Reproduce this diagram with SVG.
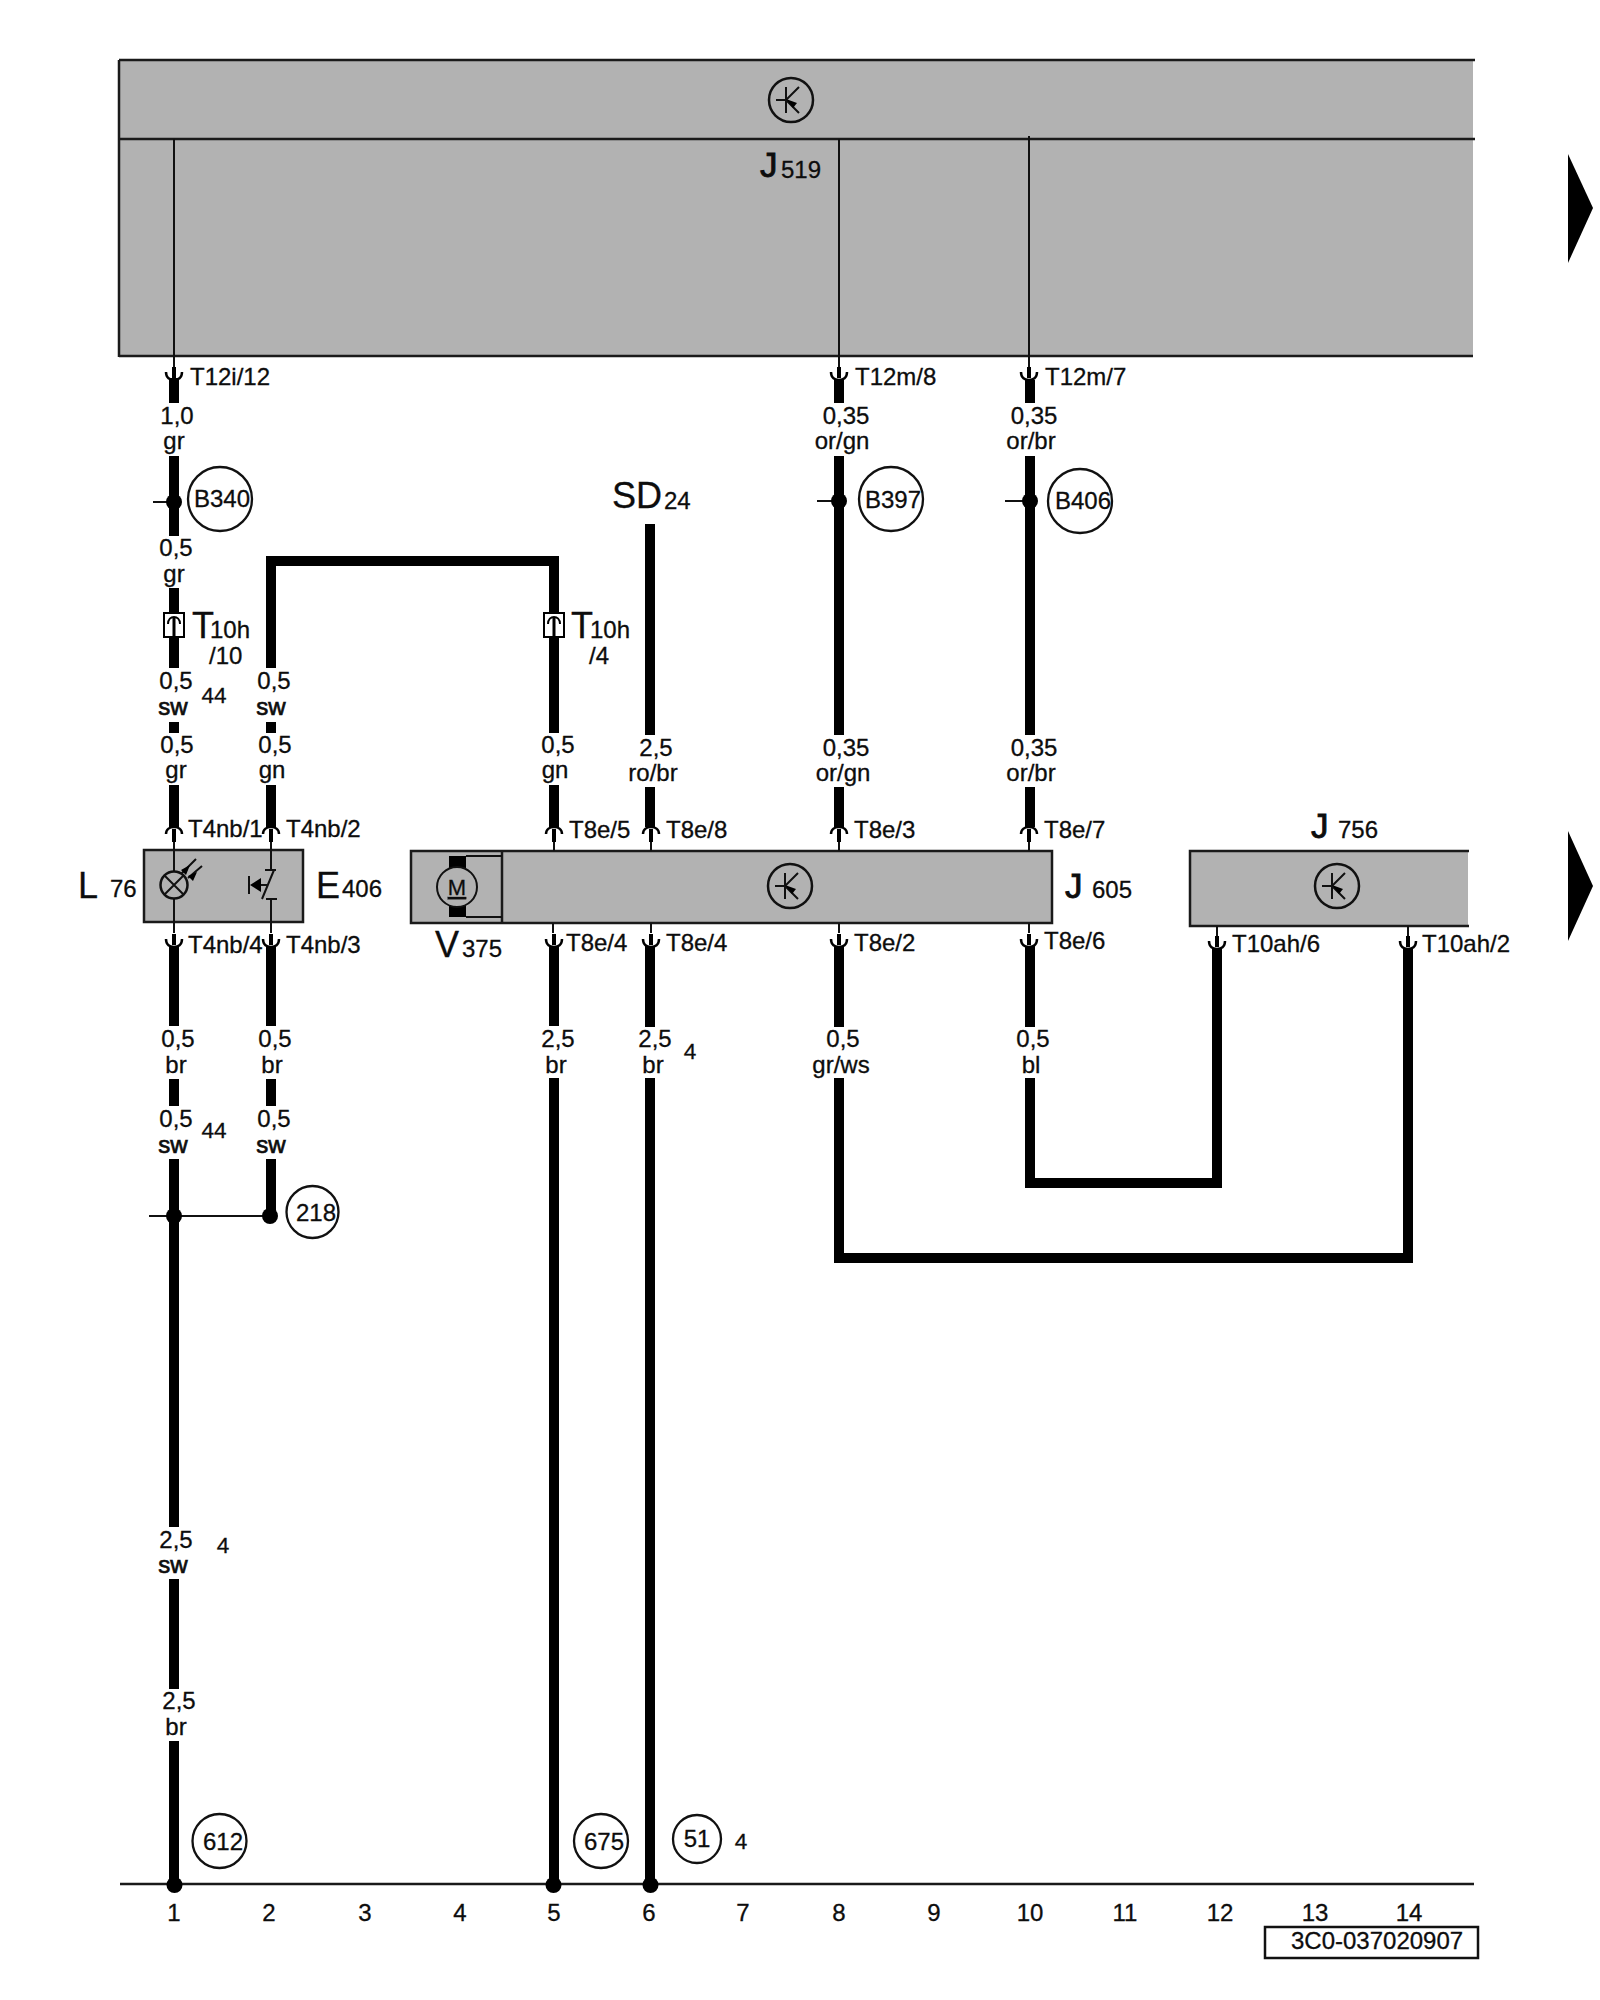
<svg xmlns="http://www.w3.org/2000/svg" width="1600" height="2000" viewBox="0 0 1600 2000">
<style>
text{font-family:"Liberation Sans",Arial,sans-serif;font-size:24px;fill:#0d0d0d;stroke:#0d0d0d;stroke-width:.3}
.m{text-anchor:middle}
.s{font-size:22.500px}
.b{font-size:36px}
.j{font-size:35px;stroke-width:.9}
.sw{stroke-width:.7}
.box{fill:#b2b2b2;stroke:#1a1a1a;stroke-width:2.5}
.fill{fill:#b2b2b2}
.ln{stroke:#1a1a1a;stroke-width:2.5;fill:none}
.thin{stroke:#111;stroke-width:2;fill:none}
.w{stroke:#000;stroke-width:10;fill:none;stroke-linejoin:miter}
.ref{fill:none;stroke:#111;stroke-width:2.300}
.dot{fill:#000}
</style>
<defs>
<g id="cd"><rect x="-2" y="-13" width="4" height="11" fill="#000"/><path d="M-8,-8C-8,-2-4,0 0,0C4,0 8,-2 8,-8" fill="none" stroke="#000" stroke-width="2.5"/></g>
<g id="cu"><rect x="-2" y="2" width="4" height="13" fill="#000"/><path d="M-8,7C-8,2-4,0 0,0C4,0 8,2 8,7" fill="none" stroke="#000" stroke-width="2.5"/></g>
<g id="tr"><circle r="22" fill="none" stroke="#111" stroke-width="2.5"/><path d="M-5,-13V13M-15,0H-5L8,-13M-5,0L8,13" fill="none" stroke="#111" stroke-width="2"/><path d="M-5,-1L6,3L2,8Z" fill="#000"/></g>
<g id="pl"><rect x="-10" y="-12" width="20" height="24" fill="#fff" stroke="#000" stroke-width="2"/><path d="M-6,-1C-6,-6-3,-8 0,-8C3,-8 6,-6 6,-1" fill="none" stroke="#000" stroke-width="2"/><rect x="-1.500" y="-8" width="3" height="20" fill="#000"/></g>
</defs>

<g id="J519">
<rect class="fill" x="119" y="60" width="1354" height="296"/>
<path class="ln" d="M119,60H1475M119,139H1475M119,356H1473M119,60V357"/>
<use href="#tr" x="791" y="100"/>
<text class="j" x="760" y="177">J</text><text x="781" y="178">519</text>
</g>

<g id="arrows">
<path class="dot" d="M1568,154L1593,208L1568,263Z"/>
<path class="dot" d="M1568,831L1593,886L1568,941Z"/>
</g>

<g id="L76_E406">
<rect class="box" x="144" y="850" width="159" height="72"/>
<path class="thin" d="M174,842V871M174,899V933"/>
<circle cx="174" cy="885" r="13.500" fill="none" stroke="#111" stroke-width="2.5"/>
<path class="thin" d="M164.500,875.500L183.500,894.500M183.500,875.500L164.500,894.500"/>
<path class="thin" d="M181,874L196,859M188,878L202,866"/>
<path class="dot" d="M190,865L186,875L181,870ZM197,872L193,881L188,876Z"/>
<path class="thin" d="M271,842V870M271,899V933M265,870H276M274,870L262,899M266,899H277"/>
<path class="thin" d="M249,876V894M258,885H268"/>
<path class="dot" d="M250,885L261,878V892Z"/>
<text class="b" x="78" y="898">L</text><text x="110" y="897">76</text>
<text class="b" x="316" y="898">E</text><text x="342" y="897">406</text>
</g>

<g id="J605_V375">
<rect class="box" x="411" y="851" width="641" height="72"/>
<path class="ln" d="M502,851V923"/>
<rect x="449" y="856" width="17" height="61" fill="#000"/>
<path class="thin" d="M466,856H502M466,917H502"/>
<circle cx="457" cy="887" r="20" fill="#b2b2b2" stroke="#111" stroke-width="2"/>
<text class="m" x="457" y="895" style="font-size:22px;text-decoration:underline">M</text>
<use href="#tr" x="790" y="886"/>
<text class="j" x="1065" y="898">J</text><text x="1092" y="898">605</text>
<text class="b" x="435" y="957">V</text><text x="462" y="957">375</text>
</g>

<g id="J756">
<rect class="fill" x="1189" y="851" width="279" height="75"/>
<path class="ln" d="M1469,851H1190V926H1469"/>
<use href="#tr" x="1337" y="886"/>
<text class="j" x="1311" y="838">J</text><text x="1338" y="838">756</text>
</g>

<g id="connectors">
<path class="thin" d="M174,139V367M839,139V367M1029,136V367"/>
<path class="thin" d="M554,842V851M651,842V851M839,842V851M1029,842V851M553,923V933M651,923V933M839,923V933M1029,923V933M1217,926V936M1408,926V936"/>
<path class="thin" d="M149,1216H270M153,502H174M817,501H839M1005,501H1030"/>
<path class="w" d="M174,378V403M174,456V536M174,588V668M174,722V733M174,785V827"/>
<path class="w" d="M174,946V1026M174,1079V1106M174,1159V1527M174,1579V1689M174,1741V1885"/>
<path class="w" d="M271,733V722M271,668V561H554V733M271,785V827M554,785V827"/>
<path class="w" d="M271,946V1026M271,1079V1106M271,1159V1216"/>
<path class="w" d="M554,946V1026M554,1078V1885"/>
<path class="w" d="M650,524V735M650,787V827M650,946V1027M650,1078V1885"/>
<path class="w" d="M839,380V403M839,456V735M839,787V827M1030,380V403M1030,456V735M1030,787V827"/>
<path class="w" d="M839,946V1027M839,1078V1258H1408V949M1030,946V1027M1030,1078V1183H1217V949"/>
<use href="#cd" x="174" y="380"/><use href="#cd" x="839" y="380"/><use href="#cd" x="1029" y="380"/>
<use href="#cu" x="174" y="827"/><use href="#cu" x="271" y="827"/><use href="#cu" x="554" y="827"/><use href="#cu" x="651" y="827"/><use href="#cu" x="839" y="827"/><use href="#cu" x="1029" y="827"/>
<use href="#cd" x="174" y="947"/><use href="#cd" x="271" y="947"/><use href="#cd" x="554" y="947"/><use href="#cd" x="651" y="947"/><use href="#cd" x="839" y="947"/><use href="#cd" x="1029" y="947"/><use href="#cd" x="1217" y="949"/><use href="#cd" x="1408" y="949"/>
<circle class="dot" cx="174" cy="502" r="8"/><circle class="dot" cx="839" cy="501" r="8"/><circle class="dot" cx="1030" cy="501" r="8"/>
<circle class="dot" cx="174" cy="1216" r="8"/><circle class="dot" cx="270" cy="1216" r="8"/>
<path class="ln" d="M120,1884H1474"/>
<circle class="dot" cx="174.500" cy="1885" r="8"/><circle class="dot" cx="553.500" cy="1885" r="8"/><circle class="dot" cx="650.500" cy="1885" r="8"/>
</g>

<g id="T10h_10"><use href="#pl" x="174" y="625"/><text class="b" x="192" y="638">T</text><text x="210" y="638">10h</text><text x="209" y="664">/10</text></g>
<g id="T10h_4"><use href="#pl" x="554" y="625"/><text class="b" x="571" y="638">T</text><text x="590" y="638">10h</text><text x="589" y="664">/4</text></g>

<g id="SD24"><text class="b" x="612" y="508">SD</text><text x="664" y="509">24</text></g>

<g id="B340"><circle class="ref" cx="220" cy="499" r="32"/><text class="m" x="222" y="507">B340</text></g>
<g id="B397"><circle class="ref" cx="891" cy="499" r="32"/><text class="m" x="893" y="508">B397</text></g>
<g id="B406"><circle class="ref" cx="1080" cy="501" r="32"/><text class="m" x="1083" y="509">B406</text></g>
<g id="N218"><circle class="ref" cx="312.500" cy="1212" r="26"/><text class="m" x="316" y="1221">218</text></g>
<g id="N612"><circle class="ref" cx="219.500" cy="1841" r="27"/><text class="m" x="223" y="1850">612</text></g>
<g id="N675"><circle class="ref" cx="601" cy="1841" r="27"/><text class="m" x="604" y="1850">675</text></g>
<g id="N51"><circle class="ref" cx="697" cy="1839" r="24"/><text class="m" x="697" y="1847">51</text></g>

<g id="pin-labels">
<text x="190" y="385">T12i/12</text><text x="855" y="385">T12m/8</text><text x="1045" y="385">T12m/7</text>
<text x="188" y="837">T4nb/1</text><text x="286" y="837">T4nb/2</text><text x="569" y="838">T8e/5</text><text x="666" y="838">T8e/8</text><text x="854" y="838">T8e/3</text><text x="1044" y="838">T8e/7</text>
<text x="188" y="953">T4nb/4</text><text x="286" y="953">T4nb/3</text><text x="566" y="951">T8e/4</text><text x="666" y="951">T8e/4</text><text x="854" y="951">T8e/2</text><text x="1044" y="949">T8e/6</text><text x="1232" y="952">T10ah/6</text><text x="1422" y="952">T10ah/2</text>
</g>

<g id="wire-labels">
<text class="m" x="177" y="424">1,0</text><text class="m" x="174" y="449">gr</text>
<text class="m" x="176" y="556">0,5</text><text class="m" x="174" y="582">gr</text>
<text class="m" x="176" y="689">0,5</text><text class="m sw" x="173" y="715">sw</text><text class="m s" x="214" y="703">44</text>
<text class="m" x="177" y="753">0,5</text><text class="m" x="176" y="778">gr</text>
<text class="m" x="274" y="689">0,5</text><text class="m sw" x="271" y="715">sw</text>
<text class="m" x="275" y="753">0,5</text><text class="m" x="272" y="778">gn</text>
<text class="m" x="558" y="753">0,5</text><text class="m" x="555" y="778">gn</text>
<text class="m" x="656" y="756">2,5</text><text class="m" x="653" y="781">ro/br</text>
<text class="m" x="846" y="424">0,35</text><text class="m" x="842" y="449">or/gn</text>
<text class="m" x="1034" y="424">0,35</text><text class="m" x="1031" y="449">or/br</text>
<text class="m" x="846" y="756">0,35</text><text class="m" x="843" y="781">or/gn</text>
<text class="m" x="1034" y="756">0,35</text><text class="m" x="1031" y="781">or/br</text>
<text class="m" x="178" y="1047">0,5</text><text class="m" x="176" y="1073">br</text>
<text class="m" x="275" y="1047">0,5</text><text class="m" x="272" y="1073">br</text>
<text class="m" x="558" y="1047">2,5</text><text class="m" x="556" y="1073">br</text>
<text class="m" x="655" y="1047">2,5</text><text class="m" x="653" y="1073">br</text><text class="m s" x="690" y="1059">4</text>
<text class="m" x="843" y="1047">0,5</text><text class="m" x="841" y="1073">gr/ws</text>
<text class="m" x="1033" y="1047">0,5</text><text class="m" x="1031" y="1073">bl</text>
<text class="m" x="176" y="1127">0,5</text><text class="m sw" x="173" y="1153">sw</text><text class="m s" x="214" y="1138">44</text>
<text class="m" x="274" y="1127">0,5</text><text class="m sw" x="271" y="1153">sw</text>
<text class="m" x="176" y="1548">2,5</text><text class="m sw" x="173" y="1573">sw</text><text class="m s" x="223" y="1553">4</text>
<text class="m" x="179" y="1709">2,5</text><text class="m" x="176" y="1735">br</text>
<text class="m s" x="741" y="1849">4</text>
</g>

<g id="grid-numbers">
<text class="m" x="174" y="1921">1</text><text class="m" x="269" y="1921">2</text><text class="m" x="365" y="1921">3</text><text class="m" x="460" y="1921">4</text><text class="m" x="554" y="1921">5</text><text class="m" x="649" y="1921">6</text><text class="m" x="743" y="1921">7</text><text class="m" x="839" y="1921">8</text><text class="m" x="934" y="1921">9</text><text class="m" x="1030" y="1921">10</text><text class="m" x="1125" y="1921">11</text><text class="m" x="1220" y="1921">12</text><text class="m" x="1315" y="1921">13</text><text class="m" x="1409" y="1921">14</text>
</g>

<g id="title">
<rect x="1265" y="1927" width="213" height="31" fill="#fff" stroke="#111" stroke-width="2.5"/>
<text x="1291" y="1949">3C0-037020907</text>
</g>
</svg>
